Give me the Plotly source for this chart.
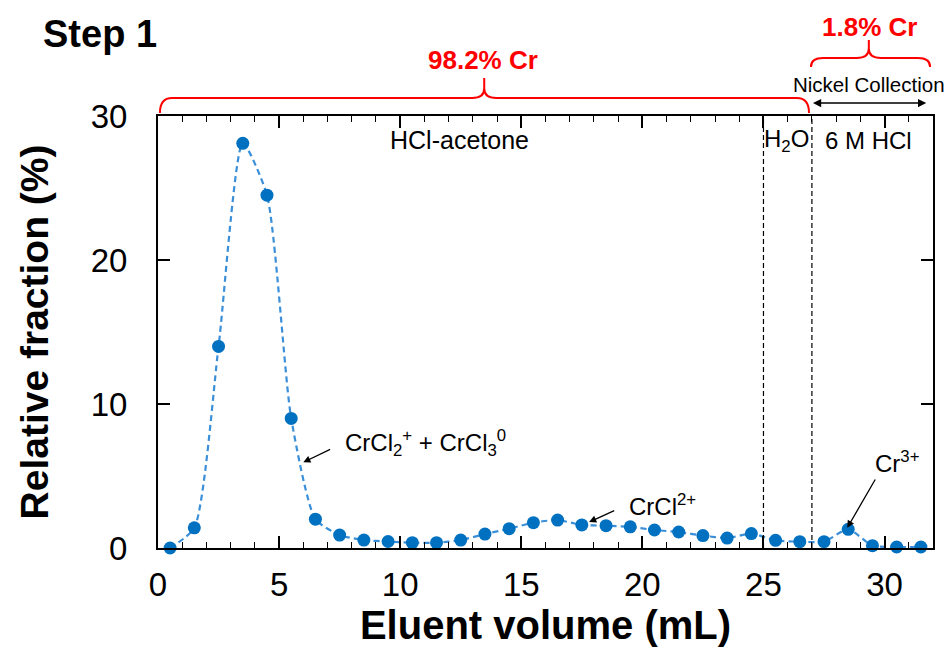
import plotly.graph_objects as go

# ---- data ----
volume_ml = [0.5, 1.5, 2.5, 3.5, 4.5, 5.5, 6.5, 7.5, 8.5, 9.5, 10.5, 11.5, 12.5, 13.5, 14.5, 15.5,
             16.5, 17.5, 18.5, 19.5, 20.5, 21.5, 22.5, 23.5, 24.5, 25.5, 26.5, 27.5, 28.5, 29.5, 30.5, 31.5]
fraction_pct = [0.0, 1.4, 14.0, 28.1, 24.5, 9.0, 2.0, 0.9, 0.55, 0.45, 0.37, 0.37, 0.55, 0.97, 1.34, 1.76,
                1.94, 1.6, 1.55, 1.47, 1.25, 1.11, 0.86, 0.69, 1.0, 0.53, 0.44, 0.44, 1.3, 0.16, 0.07, 0.07]
x_ticks = [0, 5, 10, 15, 20, 25, 30]
y_ticks = [0, 10, 20, 30]
eluent_boundaries = [25, 27]          # HCl-acetone | H2O | 6 M HCl
X_MIN, X_MAX = 0, 32
Y_MIN, Y_MAX = 0, 30

FONT = "Arial, Liberation Sans, sans-serif"
MARK = "#0070C0"
LINE = "#3A8FD8"
RED = "#FF0000"


def px(v):
    """data x -> paper x"""
    return (v - X_MIN) / (X_MAX - X_MIN)


fig = go.Figure()
fig.add_trace(go.Scatter(
    x=volume_ml, y=fraction_pct, mode="lines+markers",
    line=dict(color=LINE, width=2.2, dash="6px,4px", shape="spline", smoothing=0.6),
    marker=dict(color=MARK, size=13),
    cliponaxis=False, showlegend=False,
))

shapes = []
for b in eluent_boundaries:
    shapes.append(dict(type="line", xref="x", yref="paper", x0=b, x1=b, y0=0, y1=1,
                       line=dict(color="black", width=1.2, dash="5px,3px")))


def brace(x0, x1, xm, y_end, y_line, y_tip, r=0.5, tip_curve=0.022):
    a0, a1, am = px(x0), px(x1), px(xm)
    rr = r / (X_MAX - X_MIN)
    yc = y_line + tip_curve
    return (f"M {a0},{y_end} Q {a0},{y_line} {a0+rr},{y_line} "
            f"L {am-rr},{y_line} Q {am},{y_line} {am},{yc} L {am},{y_tip} "
            f"M {am},{yc} Q {am},{y_line} {am+rr},{y_line} "
            f"L {a1-rr},{y_line} Q {a1},{y_line} {a1},{y_end}")


shapes.append(dict(type="path", xref="paper", yref="paper",
                   path=brace(0.08, 26.88, 13.47, 1.007, 1.0417, 1.088),
                   line=dict(color=RED, width=2)))
shapes.append(dict(type="path", xref="paper", yref="paper",
                   path=brace(26.96, 31.88, 29.35, 1.1134, 1.134, 1.176),
                   line=dict(color=RED, width=2)))

ann = []
ann.append(dict(text="Step 1", xref="paper", yref="paper", x=px(-2.4), y=1.19,
                showarrow=False, xanchor="center", yanchor="middle",
                font=dict(family=FONT, size=38, color="black", weight="bold")))
ann.append(dict(text="98.2% Cr", xref="paper", yref="paper", x=px(13.4), y=1.130,
                showarrow=False, xanchor="center", yanchor="middle",
                font=dict(family=FONT, size=26, color=RED, weight="bold")))
ann.append(dict(text="1.8% Cr", xref="paper", yref="paper", x=px(29.36), y=1.207,
                showarrow=False, xanchor="center", yanchor="middle",
                font=dict(family=FONT, size=26, color=RED, weight="bold")))
ann.append(dict(text="Nickel Collection", xref="paper", yref="paper", x=px(29.35), y=1.074,
                showarrow=False, xanchor="center", yanchor="middle",
                font=dict(family=FONT, size=20.5, color="black")))
ann.append(dict(text="", xref="x", yref="paper", x=31.72, y=1.030,
                axref="x", ax=26.98, ayref="pixel", ay=0,
                showarrow=True, arrowhead=2, startarrowhead=2, arrowside="end+start",
                arrowsize=1.1, startarrowsize=1.1, arrowwidth=1.5, arrowcolor="black",
                standoff=0, startstandoff=0))
ann.append(dict(text="HCl-acetone", xref="x", yref="y", x=12.45, y=28.3,
                showarrow=False, xanchor="center", yanchor="middle",
                font=dict(family=FONT, size=25, color="black")))
ann.append(dict(text="H<sub>2</sub>O", xref="x", yref="y", x=25.95, y=28.3,
                showarrow=False, xanchor="center", yanchor="middle",
                font=dict(family=FONT, size=24, color="black")))
ann.append(dict(text="6 M HCl", xref="x", yref="y", x=29.35, y=28.3,
                showarrow=False, xanchor="center", yanchor="middle",
                font=dict(family=FONT, size=24, color="black")))

# species labels
ann.append(dict(text="CrCl<sub>2</sub><sup>+</sup> + CrCl<sub>3</sub><sup>0</sup>", xref="x", yref="y",
                x=7.62, y=7.3, showarrow=False, xanchor="left", yanchor="middle",
                font=dict(family=FONT, size=24, color="black")))
ann.append(dict(text="", xref="x", yref="y", x=6.0, y=5.95, axref="x", ayref="y", ax=7.17, ay=6.9,
                showarrow=True, arrowhead=2, arrowsize=1.1, arrowwidth=1.3, arrowcolor="black", standoff=0))
ann.append(dict(text="CrCl<sup>2+</sup>", xref="x", yref="y",
                x=19.35, y=3.0, showarrow=False, xanchor="left", yanchor="middle",
                font=dict(family=FONT, size=24, color="black")))
ann.append(dict(text="", xref="x", yref="y", x=17.8, y=1.8, axref="x", ayref="y", ax=18.9, ay=2.64,
                showarrow=True, arrowhead=2, arrowsize=1.1, arrowwidth=1.3, arrowcolor="black", standoff=0))
ann.append(dict(text="Cr<sup>3+</sup>", xref="x", yref="y",
                x=30.5, y=5.95, showarrow=False, xanchor="center", yanchor="middle",
                font=dict(family=FONT, size=24, color="black")))
ann.append(dict(text="", xref="x", yref="y", x=28.46, y=1.4, axref="x", ayref="y", ax=29.65, ay=4.86,
                showarrow=True, arrowhead=2, arrowsize=1.1, arrowwidth=1.3, arrowcolor="black", standoff=0))

axis_common = dict(showline=True, linecolor="black", linewidth=2, mirror="ticks",
                   ticks="inside", tickcolor="black", tickwidth=1.5, ticklen=12,
                   showgrid=False, zeroline=False,
                   tickfont=dict(family=FONT, size=33, color="black"))

fig.update_layout(
    width=947, height=648,
    margin=dict(l=158, r=12, t=116, b=100),
    paper_bgcolor="white", plot_bgcolor="white",
    shapes=shapes, annotations=ann,
    xaxis=dict(range=[X_MIN, X_MAX], tickvals=x_ticks, ticklabelstandoff=6,
               minor=dict(dtick=1, ticks="inside", ticklen=6, tickcolor="black", tickwidth=1.2),
               title=dict(text="Eluent volume (mL)", standoff=0,
                          font=dict(family=FONT, size=40, color="black", weight="bold")),
               **axis_common),
    yaxis=dict(range=[Y_MIN, Y_MAX], tickvals=y_ticks, ticklabelstandoff=22,
               title=dict(text="Relative fraction (%)", standoff=30,
                          font=dict(family=FONT, size=39, color="black", weight="bold")),
               **axis_common),
)

fig.write_html("out.html")
